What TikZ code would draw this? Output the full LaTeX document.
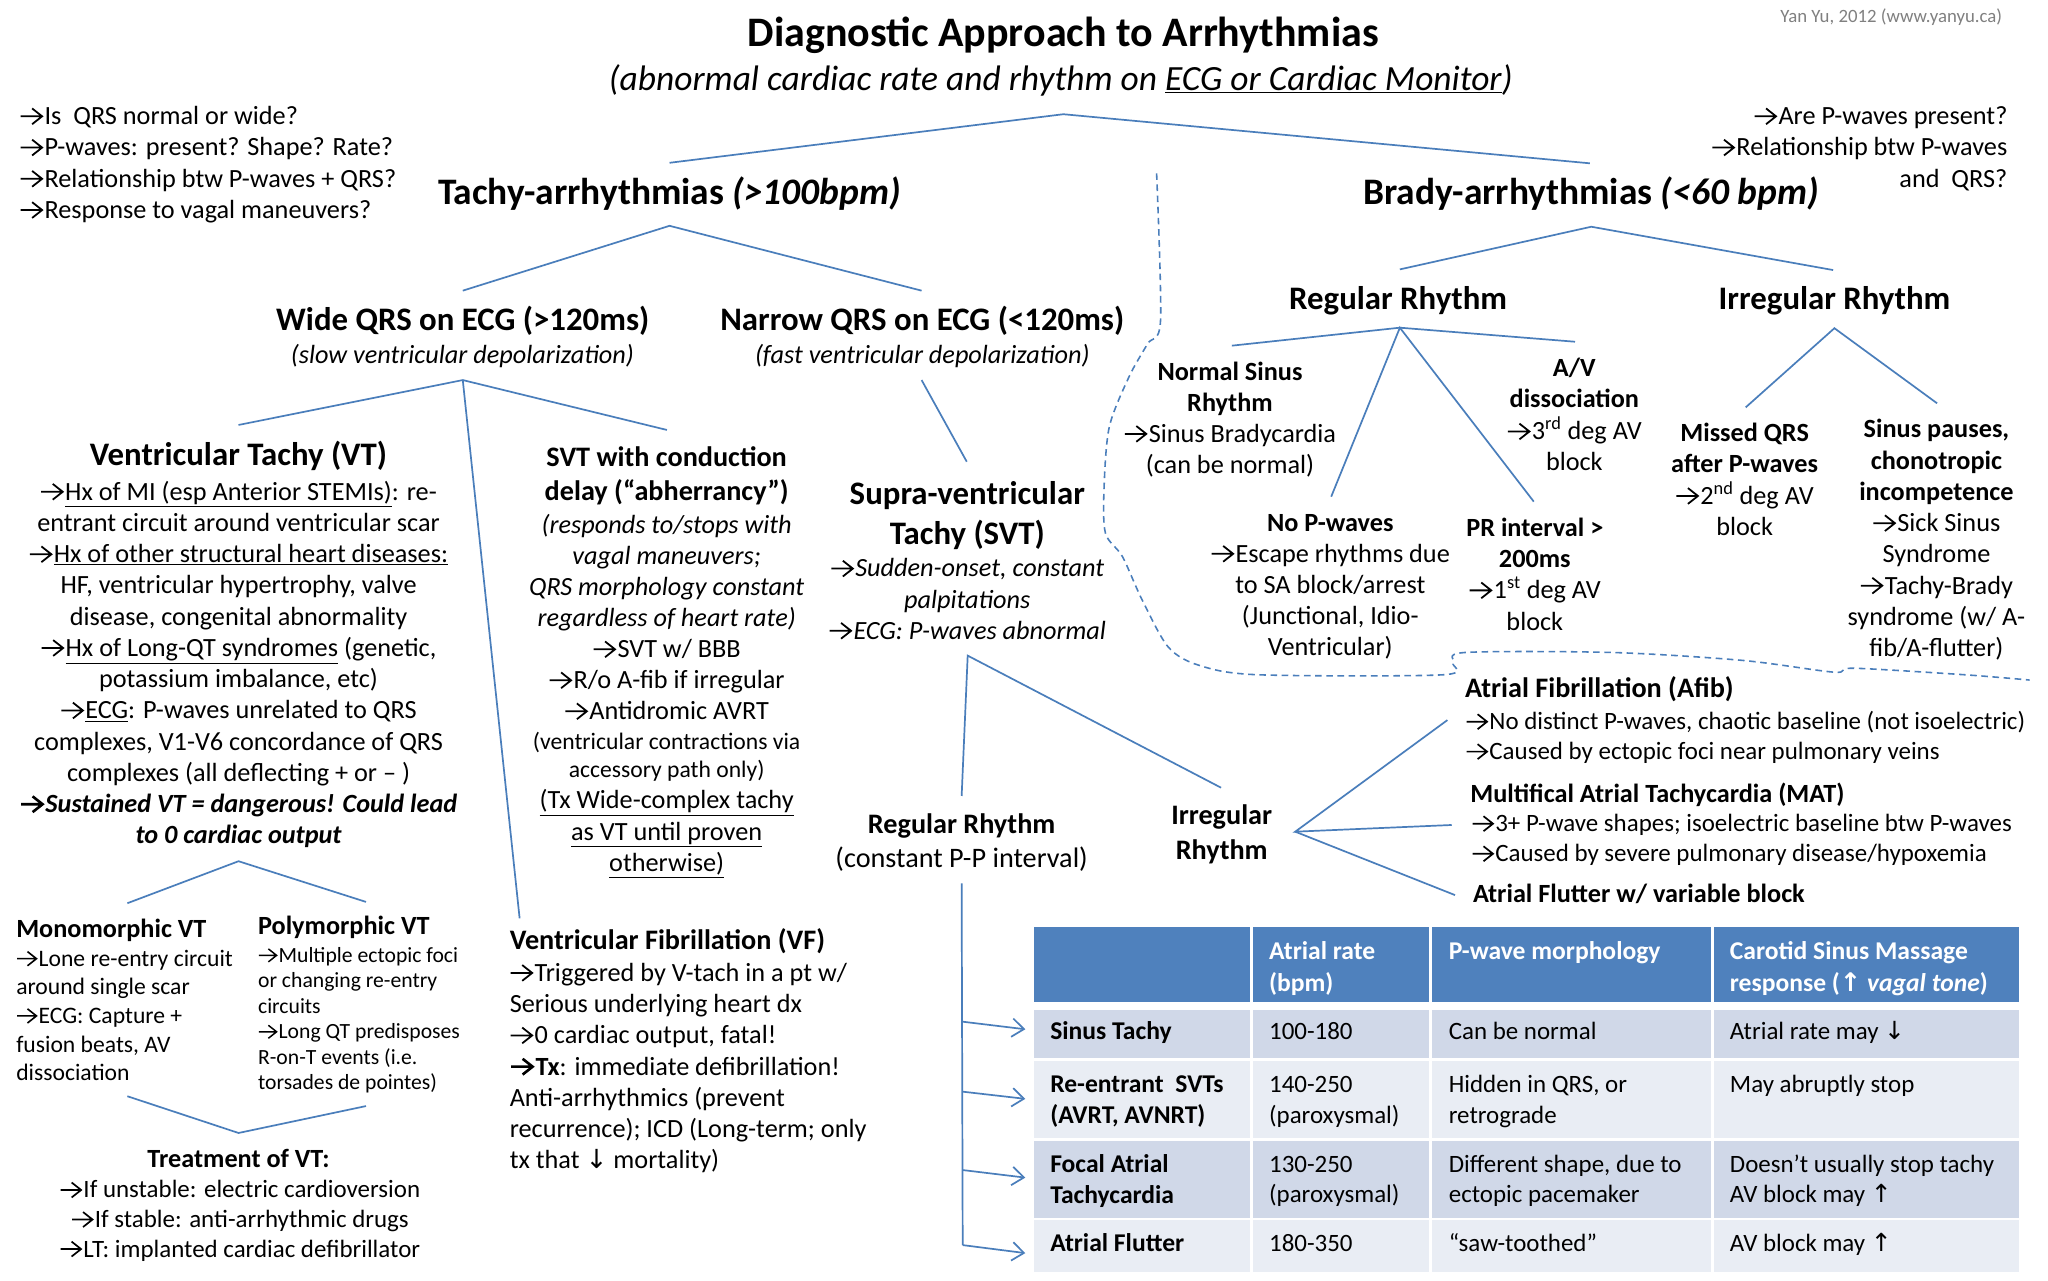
\documentclass[tikz,border=0pt]{standalone}
\usepackage{fontspec}
\setmainfont{Carlito}
\newfontfamily\symf{DejaVu Sans}
\usetikzlibrary{arrows.meta}
\definecolor{lnblue}{RGB}{74,126,187}
\definecolor{hdblue}{RGB}{79,129,189}
\definecolor{rowA}{RGB}{208,216,232}
\definecolor{rowB}{RGB}{233,237,244}
\definecolor{credgray}{RGB}{128,128,128}
\newcommand\ra{\tikz[baseline=0pt,line width=0.068em,line join=miter,line cap=butt]\draw (0.02em,0.32em) -- (0.84em,0.32em) (0.46em,0.62em) -- (0.84em,0.32em) -- (0.46em,0.02em);\hspace{0.06em}}
\newcommand\rab{\tikz[baseline=0pt,line width=0.1em,line join=miter,line cap=butt]\draw (0.02em,0.32em) -- (0.84em,0.32em) (0.46em,0.62em) -- (0.84em,0.32em) -- (0.46em,0.02em);\hspace{0.06em}}
\newcommand\upar{{\symf ↑}}
\newcommand\dnar{{\symf ↓}}
\newcommand\fz[2]{\fontsize{#1}{#2}\selectfont}
\newcommand\tb[2]{\begin{tabular}[t]{@{}#1@{}}#2\end{tabular}}
\begin{document}
\begin{tikzpicture}[x=1pt,y=-1pt,
  txt/.style={inner sep=0pt,outer sep=0pt,anchor=base},
  txl/.style={txt,anchor=base west},
  txr/.style={txt,anchor=base east},
  ln/.style={draw=lnblue,line width=1.3pt},
  tarrow/.style={ln,-{Straight Barb[length=9pt,width=14pt]}},
  body/.style={font=\fz{20}{23.8}},
  hdr/.style={font=\fz{25}{30}\bfseries},
  cellt/.style={txl,font=\fz{19}{23}},
  cellb/.style={txl,font=\fz{19.5}{23.5}\bfseries}]
\fill[white] (0,0) rectangle (1560,975);
\useasboundingbox (0,0) rectangle (1560,975);

% ---------- titles ----------
\node[txt,font=\fz{32}{38}\bfseries] (title) at (810,35.5) {Diagnostic Approach to Arrhythmias};
\node[txt,font=\fz{27}{32}\itshape] (subtitle) at (808,69) {(abnormal cardiac rate and rhythm on \underline{ECG or Cardiac Monitor})};
\node[txr,font=\fz{14.3}{17},text=credgray] (credit) at (1525,17) {Yan Yu, 2012 (www.yanyu.ca)};

\node[txl,body] (qleft) at (15,95) {\tb{l}{\ra Is\ \ QRS normal or wide?\\ \ra P-waves: present? Shape? Rate?\\ \ra Relationship btw P-waves + QRS?\\ \ra Response to vagal maneuvers?}};
\node[txr,body] (qright) at (1529,95) {\tb{r}{\ra Are P-waves present?\\ \ra Relationship btw P-waves\\ and\ \ QRS?}};

\node[txt,font=\fz{28.5}{34}\bfseries] (tachy) at (510,155.5) {Tachy-arrhythmias \textit{(>100bpm)}};
\node[txt,font=\fz{28.5}{34}\bfseries] (brady) at (1212,155.5) {Brady-arrhythmias \textit{(<60 bpm)}};

% ---------- tachy branch ----------
\node[txt,hdr] (wide) at (352.5,251.4) {Wide QRS on ECG (>120ms)};
\node[txt,font=\fz{20}{24}\itshape] (widesub) at (352.2,276.8) {(slow ventricular depolarization)};
\node[txt,hdr] (narrow) at (702.5,251.4) {Narrow QRS on ECG (<120ms)};
\node[txt,font=\fz{20}{24}\itshape] (narrowsub) at (702.5,276.8) {(fast ventricular depolarization)};

\node[txt,hdr] (vt) at (181.7,354.5) {Ventricular Tachy (VT)};
\node[txt,body] (vtbody) at (181.7,381) {\tb{c}{\ra\underline{Hx of MI (esp Anterior STEMIs)}: re-\\ entrant circuit around ventricular scar\\ \ra\underline{Hx of other structural heart diseases:}\\ HF, ventricular hypertrophy, valve\\ disease, congenital abnormality\\ \ra\underline{Hx of Long-QT syndromes} (genetic,\\ potassium imbalance, etc)\\ \ra\underline{ECG}: P-waves unrelated to QRS\\ complexes, V1-V6 concordance of QRS\\ complexes (all deflecting + or – )\\ \bfseries\itshape\rab Sustained VT = dangerous! Could lead\\ \bfseries\itshape to 0 cardiac output}};

\node[txt,font=\fz{21.5}{25.5}\bfseries] (svtc) at (507.8,355.5) {\tb{c}{SVT with conduction\\ delay (“abherrancy”)}};
\node[txt,font=\fz{20}{23.7}\itshape] (svtcB) at (507.8,406) {\tb{c}{(responds to/stops with\\ vagal maneuvers;\\ QRS morphology constant\\ regardless of heart rate)}};
\node[txt,font=\fz{20}{23.6}] (svtcC) at (507.8,501) {\tb{c}{\ra SVT w/ BBB\\ \ra R/o A-fib if irregular\\ \ra Antidromic AVRT}};
\node[txt,font=\fz{18}{21.5}] (svtcD) at (507.8,571) {\tb{c}{(ventricular contractions via\\ accessory path only)}};
\node[txt,font=\fz{20}{24}] (svtcE) at (507.8,616) {\tb{c}{\underline{(Tx Wide-complex tachy}\\ \underline{as VT until proven}\\ \underline{otherwise)}}};

\node[txt,font=\fz{25}{30.5}\bfseries] (svt) at (736.8,384) {\tb{c}{Supra-ventricular\\ Tachy (SVT)}};
\node[txt,font=\fz{20}{23.7}\itshape] (svtbody) at (736.8,439.5) {\tb{c}{\ra Sudden-onset, constant\\ palpitations\\ \ra ECG: P-waves abnormal}};

\node[txt,font=\fz{21.5}{26}\bfseries] (sreg) at (732.5,634.5) {Regular Rhythm};
\node[txt,font=\fz{21.5}{26}] (sregsub) at (732.5,660.5) {(constant P-P interval)};
\node[txt,font=\fz{21.5}{26.5}\bfseries] (sirr) at (930.6,628) {\tb{c}{Irregular\\ Rhythm}};

% ---------- brady branch ----------
\node[txt,hdr] (breg) at (1065,235.6) {Regular Rhythm};
\node[txt,hdr] (birr) at (1397.4,235.6) {Irregular Rhythm};

\node[txt,font=\fz{20}{23.7}] (nsr) at (936.9,289.5) {\tb{c}{\bfseries Normal Sinus\\ \bfseries Rhythm\\ \ra Sinus Bradycardia\\ (can be normal)}};
\node[txt,font=\fz{20}{23.7}] (avd) at (1199.2,287) {\tb{c}{\bfseries A/V\\ \bfseries dissociation\\ \ra 3\textsuperscript{rd} deg AV\\ block}};
\node[txt,font=\fz{20}{23.75}] (nop) at (1013.3,404.5) {\tb{c}{\bfseries No P-waves\\ \ra Escape rhythms due\\ to SA block/arrest\\ (Junctional, Idio-\\ Ventricular)}};
\node[txt,font=\fz{20}{23.8}] (pri) at (1169.1,408.5) {\tb{c}{\bfseries PR interval >\\ \bfseries 200ms\\ \ra 1\textsuperscript{st} deg AV\\ block}};
\node[txt,font=\fz{20}{23.8}] (mqrs) at (1328.9,336) {\tb{c}{\bfseries Missed QRS\\ \bfseries after P-waves\\ \ra 2\textsuperscript{nd} deg AV\\ block}};
\node[txt,font=\fz{20}{23.8}] (spause) at (1475,333.5) {\tb{c}{\bfseries Sinus pauses,\\ \bfseries chonotropic\\ \bfseries incompetence\\ \ra Sick Sinus\\ Syndrome\\ \ra Tachy-Brady\\ syndrome (w/ A-\\ fib/A-flutter)}};

% ---------- irregular SVT ----------
\node[txl,font=\fz{21.5}{26}\bfseries] (afib) at (1116,531.5) {Atrial Fibrillation (Afib)};
\node[txl,font=\fz{19}{22.8}] (afibbody) at (1116.5,555.8) {\tb{l}{\ra No distinct P-waves, chaotic baseline (not isoelectric)\\ \ra Caused by ectopic foci near pulmonary veins}};
\node[txl,font=\fz{20}{26}\bfseries] (mat) at (1120,611.5) {Multifical Atrial Tachycardia (MAT)};
\node[txl,font=\fz{19}{22.9}] (matbody) at (1121,633.5) {\tb{l}{\ra 3+ P-wave shapes; isoelectric baseline btw P-waves\\ \ra Caused by severe pulmonary disease/hypoxemia}};
\node[txl,font=\fz{20}{26}\bfseries] (flut) at (1122,687.8) {Atrial Flutter w/ variable block};

% ---------- bottom left ----------
\node[txl,font=\fz{20}{24}\bfseries] (mono) at (12.4,714) {Monomorphic VT};
\node[txl,font=\fz{18}{21.8}] (monobody) at (12.4,736) {\tb{l}{\ra Lone re-entry circuit\\ around single scar\\ \ra ECG: Capture +\\ fusion beats, AV\\ dissociation}};
\node[txl,font=\fz{20}{24}\bfseries] (poly) at (196.6,712) {Polymorphic VT};
\node[txl,font=\fz{16.5}{19.4}] (polybody) at (196.6,733) {\tb{l}{\ra Multiple ectopic foci\\ or changing re-entry\\ circuits\\ \ra Long QT predisposes\\ R-on-T events (i.e.\\ torsades de pointes)}};
\node[txt,font=\fz{20}{24}\bfseries] (treat) at (181.7,889) {Treatment of VT:};
\node[txt,font=\fz{19}{22.5}] (treatbody) at (182.8,912.5) {\tb{c}{\ra If unstable: electric cardioversion\\ \ra If stable: anti-arrhythmic drugs\\ \ra LT: implanted cardiac defibrillator}};

\node[txl,font=\fz{21.5}{26}\bfseries] (vf) at (388.3,723) {Ventricular Fibrillation (VF)};
\node[txl,body] (vfbody) at (388.3,747.5) {\tb{l}{\ra Triggered by V-tach in a pt w/\\ Serious underlying heart dx\\ \ra 0 cardiac output, fatal!\\ \rab\textbf{Tx}: immediate defibrillation!\\ Anti-arrhythmics (prevent\\ recurrence); ICD (Long-term; only\\ tx that \dnar\ mortality)}};

% ---------- table ----------
\fill[hdblue] (787.5,706.4) rectangle (952,763.5);
\fill[hdblue] (954.5,706.4) rectangle (1088.5,763.5);
\fill[hdblue] (1091,706.4) rectangle (1303,763.5);
\fill[hdblue] (1305.5,706.4) rectangle (1538.2,763.5);
\foreach \ya/\yb/\cl in {769.4/806.2/rowA, 808.2/867.1/rowB, 869.1/927.5/rowA, 929.3/968.7/rowB}{
  \fill[\cl] (787.5,\ya) rectangle (952,\yb);
  \fill[\cl] (954.5,\ya) rectangle (1088.5,\yb);
  \fill[\cl] (1091,\ya) rectangle (1303,\yb);
  \fill[\cl] (1305.5,\ya) rectangle (1538.2,\yb);
}
\node[cellb,text=white,font=\fz{19.5}{24}\bfseries] (h2) at (966.7,731) {\tb{l}{Atrial rate\\ (bpm)}};
\node[cellb,text=white,font=\fz{19.5}{24}\bfseries] (h3) at (1103.6,731) {P-wave morphology};
\node[cellb,text=white,font=\fz{19.5}{24}\bfseries] (h4) at (1317.7,731) {\tb{l}{Carotid Sinus Massage\\ response ({\symf\bfseries ↑} \textit{vagal tone})}};

\node[cellb] (r1c1) at (800,792) {Sinus Tachy};
\node[cellt] (r1c2) at (966.7,792) {100-180};
\node[cellt] (r1c3) at (1103.6,792) {Can be normal};
\node[cellt] (r1c4) at (1317.7,792) {Atrial rate may \dnar};

\node[cellb] (r2c1) at (800,832.5) {\tb{l}{Re-entrant\ \ SVTs\\ (AVRT, AVNRT)}};
\node[cellt] (r2c2) at (966.7,832.5) {\tb{l}{140-250\\ (paroxysmal)}};
\node[cellt] (r2c3) at (1103.6,832.5) {\tb{l}{Hidden in QRS, or\\ retrograde}};
\node[cellt] (r2c4) at (1317.7,832.5) {May abruptly stop};

\node[cellb] (r3c1) at (800,893) {\tb{l}{Focal Atrial\\ Tachycardia}};
\node[cellt] (r3c2) at (966.7,893) {\tb{l}{130-250\\ (paroxysmal)}};
\node[cellt] (r3c3) at (1103.6,893) {\tb{l}{Different shape, due to\\ ectopic pacemaker}};
\node[cellt] (r3c4) at (1317.7,893) {\tb{l}{Doesn’t usually stop tachy\\ AV block may \upar}};

\node[cellb] (r4c1) at (800,953) {Atrial Flutter};
\node[cellt] (r4c2) at (966.7,953) {180-350};
\node[cellt] (r4c3) at (1103.6,953) {“saw-toothed”};
\node[cellt] (r4c4) at (1317.7,953) {AV block may \upar};

% ---------- connector coordinates ----------
\coordinate (topL) at (510,124);
\coordinate (topA) at (810,87);
\coordinate (topR) at (1211,124.4);
\coordinate (taL) at (352.5,221.4);
\coordinate (taA) at (510,172);
\coordinate (taR) at (702,221.4);
\coordinate (brL) at (1066.3,205.2);
\coordinate (brA) at (1212.1,172.7);
\coordinate (brR) at (1396.3,205.7);
\coordinate (wA) at (352.5,289.5);
\coordinate (wVT) at (181.7,323.7);
\coordinate (wSV) at (508,327.5);
\coordinate (wVF) at (395.8,699.5);
\coordinate (nA) at (702,289.5);
\coordinate (nS) at (736.4,351.7);
\coordinate (sA) at (737.1,499.4);
\coordinate (sR) at (732.5,606.3);
\coordinate (sI) at (930.1,600);
\coordinate (vT) at (732.5,672.9);
\coordinate (vB) at (733.3,948.4);
\coordinate (a1s) at (733,778.2);
\coordinate (a1e) at (781,784);
\coordinate (a2s) at (733,831.5);
\coordinate (a2e) at (781,837);
\coordinate (a3s) at (733,891.2);
\coordinate (a3e) at (781,897);
\coordinate (a4s) at (733.3,948.4);
\coordinate (a4e) at (781,954.5);
\coordinate (rA) at (1066.3,249.6);
\coordinate (rL) at (938.3,263.3);
\coordinate (rR) at (1199.7,260.3);
\coordinate (rDL) at (1014,378.3);
\coordinate (rDR) at (1168.3,382.1);
\coordinate (iA) at (1397.3,250);
\coordinate (iL) at (1329.7,310.3);
\coordinate (iR) at (1475.5,307.2);
\coordinate (fA) at (986.6,633.5);
\coordinate (fU) at (1102.5,548.5);
\coordinate (fM) at (1105.8,628.4);
\coordinate (fD) at (1108.3,681.8);
\coordinate (mA) at (181.7,656);
\coordinate (mL) at (97,688);
\coordinate (mR) at (278.8,687);
\coordinate (lA) at (181.7,863);
\coordinate (lL) at (97,835);
\coordinate (lR) at (278.8,842.5);

% ---------- connectors ----------
\draw[ln] (topL) -- (topA) -- (topR);
\draw[ln] (taL) -- (taA) -- (taR);
\draw[ln] (brL) -- (brA) -- (brR);
\draw[ln] (wVT) -- (wA) -- (wSV);
\draw[ln] (wA) -- (wVF);
\draw[ln] (nA) -- (nS);
\draw[ln] (sR) -- (sA) -- (sI);
\draw[ln] (vT) -- (vB);
\draw[tarrow] (a1s) -- (a1e);
\draw[tarrow] (a2s) -- (a2e);
\draw[tarrow] (a3s) -- (a3e);
\draw[tarrow] (a4s) -- (a4e);
\draw[ln] (rL) -- (rA) -- (rR);
\draw[ln] (rDL) -- (rA) -- (rDR);
\draw[ln] (iL) -- (iA) -- (iR);
\draw[ln] (fU) -- (fA) -- (fM);
\draw[ln] (fA) -- (fD);
\draw[ln] (mL) -- (mA) -- (mR);
\draw[ln] (lL) -- (lA) -- (lR);

% ---------- dashed boundary ----------
\draw[draw=lnblue,line width=1.2pt,dash pattern=on 5pt off 3.5pt]
  plot[smooth,tension=0.5] coordinates {(881,132) (884,244) (874,262) (860,287) (845,325) (841,371) (842,406) (855,424) (870,457) (890,493) (914,507) (959,514) (1099,514) (1107,505) (1116,497) (1228,497) (1327,503) (1397,512) (1412,509) (1497,514) (1546,518)};
\end{tikzpicture}
\end{document}
